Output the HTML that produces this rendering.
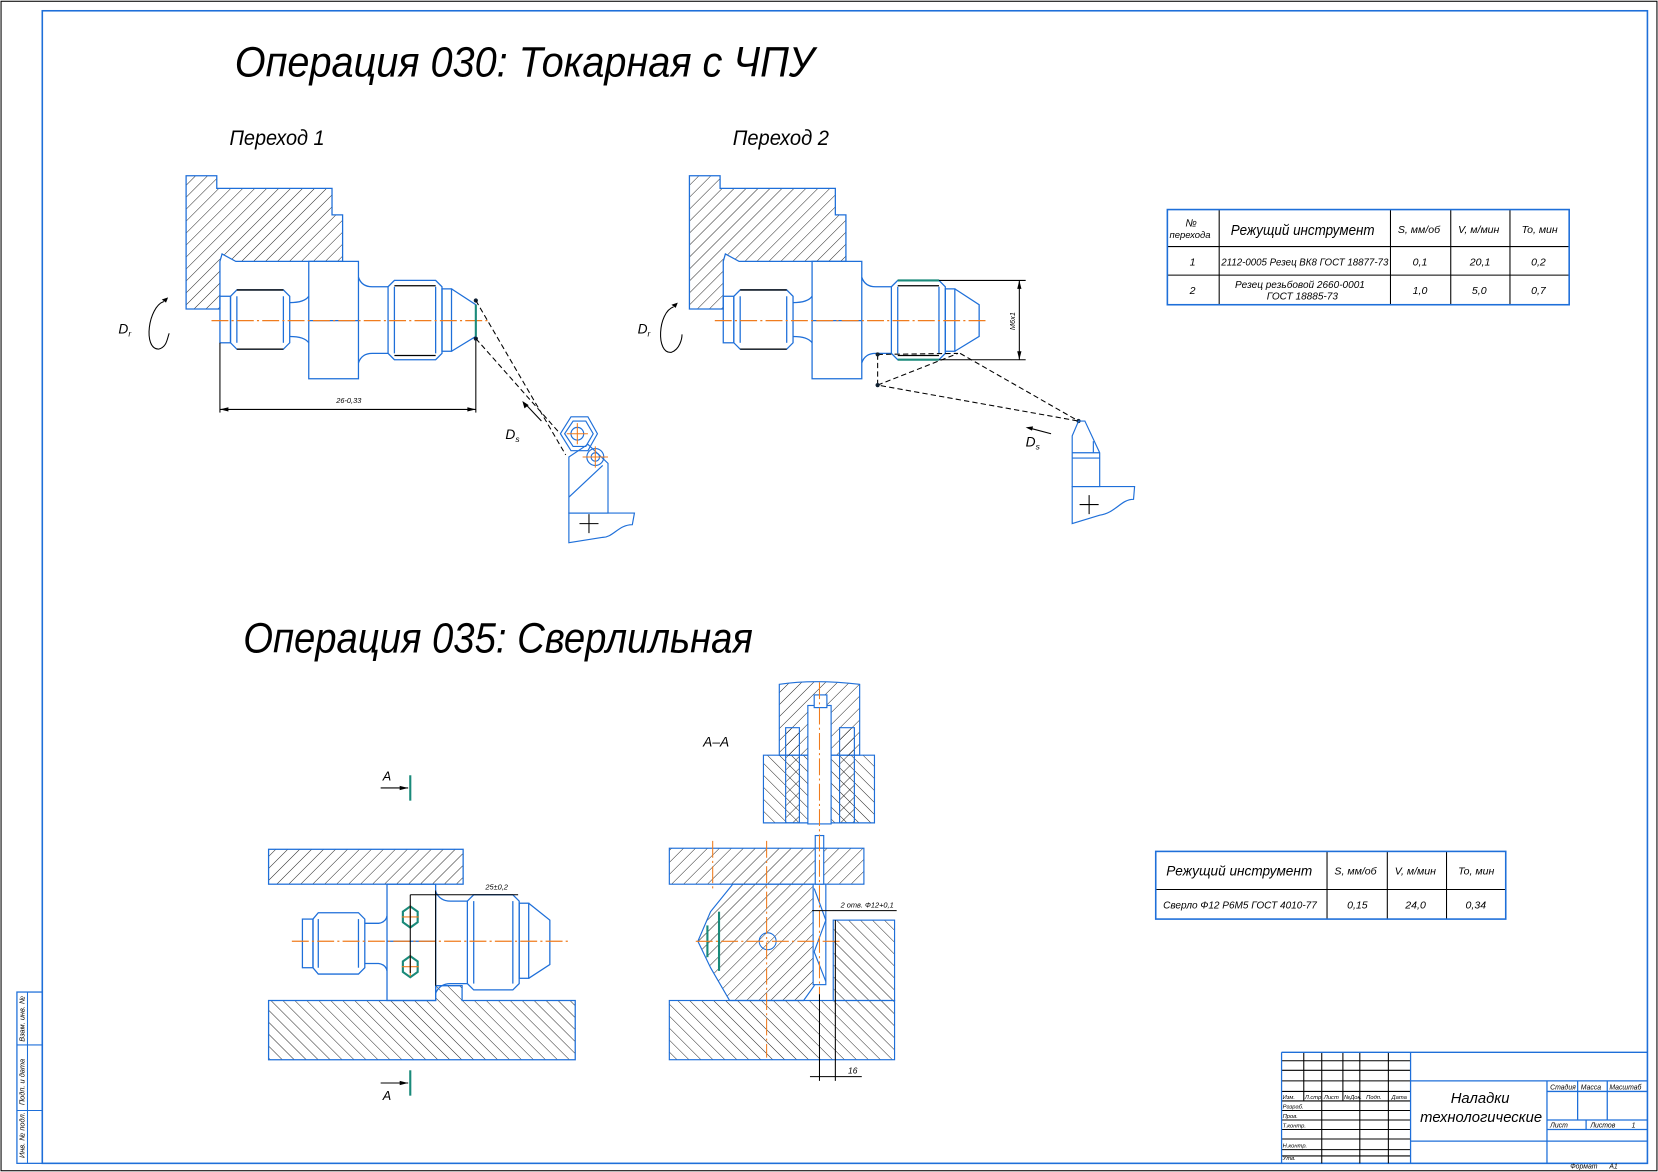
<!DOCTYPE html>
<html><head><meta charset="utf-8"><style>
html,body{margin:0;padding:0;background:#fff}
svg{display:block}
text{font-family:"Liberation Sans",sans-serif;font-style:italic}
</style></head><body>
<svg width="1658" height="1172" viewBox="0 0 1568 1108" xmlns="http://www.w3.org/2000/svg">
<defs>
<pattern id="h1" patternUnits="userSpaceOnUse" width="8" height="8" patternTransform="rotate(45)"><line x1="0" y1="0" x2="0" y2="8" stroke="#000" stroke-width="0.8"/></pattern>
<pattern id="h2" patternUnits="userSpaceOnUse" width="8" height="8" patternTransform="rotate(-45)"><line x1="0" y1="0" x2="0" y2="8" stroke="#000" stroke-width="0.8"/></pattern>
<g id="part" fill="none" stroke="#1e6fd9" stroke-width="1.2">
<rect x="208" y="280" width="10" height="44"/>
<path d="M218,280 L224,274 L268,274 L274,280 L274,324 L268,330 L224,330 L218,324 Z"/>
<line x1="224" y1="280" x2="224" y2="324"/><line x1="268" y1="280" x2="268" y2="324"/>
<line x1="224" y1="274" x2="268" y2="274" stroke="#000"/><line x1="224" y1="330" x2="268" y2="330" stroke="#000"/>
<path d="M274,286 Q288,286 292,280 M274,318 Q288,318 292,324"/>
<rect x="292" y="247" width="47" height="111"/>
<path d="M339,262 Q342,271 352,271 L367,271 M339,343 Q342,334 352,334 L367,334"/>
<path d="M367,271 L373,265 L412,265 L418,271 L418,334 L412,340 L373,340 L367,334 Z"/>
<line x1="373" y1="271" x2="373" y2="334"/><line x1="412" y1="271" x2="412" y2="334"/>
<line x1="373" y1="270" x2="412" y2="270" stroke="#000"/><line x1="373" y1="336" x2="412" y2="336" stroke="#000"/>
<rect x="418" y="273" width="9" height="59"/>
<path d="M427,273 L450,288 L450,318 L427,332"/>
<line x1="292" y1="303" x2="339" y2="303"/>
</g>
<g id="chuck">
<polygon points="176,166 205,166 205,178 314,178 314,203 324,203 324,247 223,247 210,240 208,247 208,292 176,292" fill="url(#h1)" stroke="#1e6fd9" stroke-width="1.2"/>
</g>
</defs>

<rect x="1" y="1" width="1566" height="1106" fill="none" stroke="#000" stroke-width="1"/>
<rect x="40" y="10" width="1518" height="1090" fill="none" stroke="#1e6fd9" stroke-width="1.5"/>
<rect x="16" y="938" width="24" height="162" fill="none" stroke="#1e6fd9" stroke-width="1.2"/>
<line x1="26" y1="938" x2="26" y2="1100" stroke="#1e6fd9"/>
<line x1="16" y1="988" x2="40" y2="988" stroke="#1e6fd9"/><line x1="16" y1="1050" x2="40" y2="1050" stroke="#1e6fd9"/>
<text font-size="7" transform="translate(23,985) rotate(-90)">Взам. инв. №</text>
<text font-size="7" transform="translate(23,1045) rotate(-90)">Подп. и дата</text>
<text font-size="7" transform="translate(23,1095) rotate(-90)">Инв. № подл.</text>

<text x="222" y="72" font-size="40" textLength="548" lengthAdjust="spacingAndGlyphs">Операция 030: Токарная с ЧПУ</text>
<text x="217" y="137" font-size="20" textLength="90" lengthAdjust="spacingAndGlyphs">Переход 1</text>
<text x="693" y="137" font-size="20" textLength="91" lengthAdjust="spacingAndGlyphs">Переход 2</text>
<text x="230" y="617" font-size="40" textLength="482" lengthAdjust="spacingAndGlyphs">Операция 035: Сверлильная</text>

<use href="#chuck"/>
<use href="#part"/>
<line x1="200" y1="303" x2="462" y2="303" stroke="#f07c1e" stroke-width="1.2" stroke-dasharray="16,3,2,3"/>
<line x1="208" y1="324" x2="208" y2="390" stroke="#000"/><line x1="450" y1="320" x2="450" y2="390" stroke="#000"/>
<line x1="208" y1="387" x2="450" y2="387" stroke="#000"/>
<path d="M208,387 l8,-2 v4 z M450,387 l-8,-2 v4 z" fill="#000"/>
<text x="318" y="381" font-size="7">26-0,33</text>
<line x1="450" y1="288" x2="450" y2="318" stroke="#1a8a7a" stroke-width="2"/>
<circle cx="450" cy="284" r="2" fill="#123"/><circle cx="450" cy="320" r="2" fill="#123"/>
<path d="M450,284 L535,430 M450,320 L528,408" stroke="#000" stroke-dasharray="5,3" fill="none"/>
<path d="M512,398 L497,382" stroke="#000"/><path d="M494,379 l2,7 l4,-3 z" fill="#000"/>
<text x="478" y="415" font-size="13">D<tspan font-size="8" dy="3">s</tspan></text>
<text x="112" y="315" font-size="13">D<tspan font-size="8" dy="3">r</tspan></text>
<path d="M155,285 C140,290 135,330 150,330 C158,328 158,320 160,315" fill="none" stroke="#000"/>
<path d="M153,283 l6,-2 l-2,5 z" fill="#000"/>
<g fill="none" stroke="#1e6fd9" stroke-width="1.1">
<polygon points="530,410 540,394 556,394 565,410 556,426 540,426"/>
<polygon points="534,410 542,398 554,398 561,410 554,422 542,422"/>
<circle cx="546" cy="410" r="6"/>
<polygon points="538,432 556,420 575,438 575,485 538,485"/>
<circle cx="563" cy="432" r="8"/><circle cx="563" cy="432" r="4"/>
<line x1="538" y1="470" x2="570" y2="440"/>
<path d="M538,485 L600,485 L598,496 C585,496 580,508 570,508 L538,513 Z"/>
</g>
<path d="M546,400 v20 M536,410 h20 M563,422 v20 M551,432 h24" stroke="#f07c1e"/>
<path d="M557,486 v18 M548,495 h18" stroke="#000"/>

<use href="#chuck" transform="translate(476,0)"/>
<use href="#part" transform="translate(476,0)"/>
<line x1="676" y1="303" x2="935" y2="303" stroke="#f07c1e" stroke-width="1.2" stroke-dasharray="16,3,2,3"/>
<line x1="849" y1="265" x2="888" y2="265" stroke="#1a8a7a" stroke-width="2"/><line x1="849" y1="340" x2="888" y2="340" stroke="#1a8a7a" stroke-width="2"/>
<line x1="888" y1="265" x2="970" y2="265" stroke="#000"/><line x1="888" y1="340" x2="970" y2="340" stroke="#000"/>
<line x1="964" y1="265" x2="964" y2="340" stroke="#000"/>
<path d="M964,265 l-2,8 h4 z M964,340 l-2,-8 h4 z" fill="#000"/>
<text font-size="7" transform="translate(960,312) rotate(-90)">M6x1</text>
<path d="M830,335 L830,364 L1020,398 M830,364 L906,334 M830,335 L906,334 M908,334 L1020,398" stroke="#000" stroke-dasharray="5,3" fill="none"/>
<circle cx="830" cy="335" r="2" fill="#123"/><circle cx="830" cy="364" r="2" fill="#123"/><circle cx="1020" cy="398" r="2" fill="#123"/>
<path d="M994,410 L975,405" stroke="#000"/><path d="M970,404 l7,-1 l-1,4 z" fill="#000"/>
<text x="970" y="422" font-size="13">D<tspan font-size="8" dy="3">s</tspan></text>
<text x="603" y="315" font-size="13">D<tspan font-size="8" dy="3">r</tspan></text>
<path d="M637,290 C622,295 620,335 635,333 C643,330 645,320 645,316" fill="none" stroke="#000"/>
<path d="M635,288 l6,-2 l-2,5 z" fill="#000"/>
<g fill="none" stroke="#1e6fd9" stroke-width="1.1">
<path d="M1020,398 L1014,412 L1014,460 L1040,460 L1040,428 L1026,398 Z"/>
<line x1="1014" y1="428" x2="1040" y2="428"/><line x1="1014" y1="433" x2="1040" y2="433"/>
<line x1="1034" y1="417" x2="1034" y2="428"/>
<path d="M1014,460 L1073,460 L1072,472 C1060,472 1055,485 1040,487 L1014,495 Z"/>
</g>
<path d="M1030,468 v18 M1021,477 h18" stroke="#000"/>

<g stroke="#000" stroke-width="1" fill="none">
<line x1="1104" y1="233" x2="1484" y2="233"/><line x1="1104" y1="260" x2="1484" y2="260"/>
<line x1="1153" y1="198" x2="1153" y2="288"/><line x1="1315" y1="198" x2="1315" y2="288"/>
<line x1="1372" y1="198" x2="1372" y2="288"/><line x1="1428" y1="198" x2="1428" y2="288"/>
</g>
<rect x="1104" y="198" width="380" height="90" fill="none" stroke="#1e6fd9" stroke-width="1.5"/>
<g font-size="10">
<text x="1121" y="214">№</text><text x="1106" y="225" font-size="9">перехода</text>
<text x="1164" y="222" font-size="14" textLength="136" lengthAdjust="spacingAndGlyphs">Режущий инструмент</text>
<text x="1322" y="220">S, мм/об</text><text x="1379" y="220">V, м/мин</text><text x="1439" y="220">To, мин</text>
<text x="1125" y="251">1</text><text x="1155" y="251" font-size="9.5" textLength="158" lengthAdjust="spacingAndGlyphs">2112-0005 Резец ВК8 ГОСТ 18877-73</text>
<text x="1336" y="251">0,1</text><text x="1390" y="251">20,1</text><text x="1448" y="251">0,2</text>
<text x="1125" y="278">2</text><text x="1168" y="272" font-size="9.5">Резец резьбовой 2660-0001</text><text x="1198" y="283" font-size="9.5">ГОСТ 18885-73</text>
<text x="1336" y="278">1,0</text><text x="1392" y="278">5,0</text><text x="1448" y="278">0,7</text>
</g>

<g stroke="#000" stroke-width="1">
<line x1="1093" y1="841" x2="1424" y2="841"/>
<line x1="1255" y1="805" x2="1255" y2="869"/><line x1="1312" y1="805" x2="1312" y2="869"/><line x1="1368" y1="805" x2="1368" y2="869"/>
</g>
<rect x="1093" y="805" width="331" height="64" fill="none" stroke="#1e6fd9" stroke-width="1.5"/>
<g font-size="10">
<text x="1103" y="828" font-size="13" textLength="138" lengthAdjust="spacingAndGlyphs">Режущий инструмент</text>
<text x="1262" y="827">S, мм/об</text><text x="1319" y="827">V, м/мин</text><text x="1379" y="827">To, мин</text>
<text x="1100" y="859" font-size="9.5">Сверло Ф12 Р6М5 ГОСТ 4010-77</text>
<text x="1274" y="859">0,15</text><text x="1329" y="859">24,0</text><text x="1386" y="859">0,34</text>
</g>

<rect x="254" y="803" width="184" height="33" fill="url(#h1)" stroke="#1e6fd9" stroke-width="1.2"/>
<polygon points="254,946 412,946 412,932 437,932 437,946 544,946 544,1002 254,1002" fill="url(#h2)" stroke="#1e6fd9" stroke-width="1.2"/>
<g fill="none" stroke="#1e6fd9" stroke-width="1.2" transform="translate(-12,0)">
<rect x="298" y="869" width="10" height="46"/>
<path d="M308,869 L313,863 L351,863 L357,869 L357,915 L351,921 L313,921 L308,915 Z"/>
<line x1="313" y1="869" x2="313" y2="915"/><line x1="351" y1="869" x2="351" y2="915"/>
<path d="M357,873 L370,873 Q377,872 378,866 M357,911 L370,911 Q377,912 378,918"/>
<rect x="378" y="836" width="46" height="110"/>
<path d="M424,843 Q428,852 438,852 L454,852 M424,939 Q428,930 438,930 L454,930"/>
<path d="M454,852 L460,846 L497,846 L503,852 L503,930 L497,936 L460,936 L454,930 Z"/>
<line x1="460" y1="852" x2="460" y2="930"/><line x1="497" y1="852" x2="497" y2="930"/>
<rect x="503" y="854" width="9" height="71"/>
<path d="M512,854 L532,870 L532,912 L512,925"/>
<line x1="378" y1="890" x2="424" y2="890"/>
</g>
<line x1="276" y1="890" x2="540" y2="890" stroke="#f07c1e" stroke-width="1.2" stroke-dasharray="16,3,2,3"/>
<g stroke="#1a8a7a" stroke-width="2" fill="none">
<path d="M388,857 L395,862 L395,872 L388,877 L381,872 L381,862 Z"/>
<path d="M388,904 L395,909 L395,919 L388,924 L381,919 L381,909 Z"/>
</g>
<path d="M380,867 h16 M388,856 v20 M380,914 h16 M388,903 v20" stroke="#f07c1e"/>
<line x1="388" y1="846" x2="388" y2="920" stroke="#000"/><line x1="412" y1="842" x2="412" y2="932" stroke="#000"/>
<line x1="388" y1="846" x2="490" y2="846" stroke="#000"/>
<text x="459" y="841" font-size="7">25±0,2</text>
<line x1="388" y1="733" x2="388" y2="757" stroke="#1a8a7a" stroke-width="2"/><line x1="360" y1="745" x2="386" y2="745" stroke="#000"/><path d="M386,745 l-8,-2 v4 z" fill="#000"/>
<text x="362" y="738" font-size="12" font-style="normal">А</text>
<line x1="388" y1="1012" x2="388" y2="1036" stroke="#1a8a7a" stroke-width="2"/><line x1="360" y1="1024" x2="386" y2="1024" stroke="#000"/><path d="M386,1024 l-8,-2 v4 z" fill="#000"/>
<text x="362" y="1040" font-size="12" font-style="normal">А</text>

<text x="665" y="706" font-size="13" font-style="normal">А–А</text>
<g stroke="#1e6fd9" stroke-width="1.1">
<path d="M737,647 Q770,642 813,647 L813,714 L737,714 Z" fill="url(#h1)"/>
<path d="M722,714 L827,714 L827,778 L722,778 Z" fill="url(#h2)"/>
<rect x="764" y="667" width="22" height="112" fill="#fff"/>
<rect x="770" y="657" width="12" height="12" fill="#fff"/>
<path d="M743,688 L756,688 L756,778 L743,778 Z M794,688 L808,688 L808,778 L794,778 Z" fill="url(#h1)"/>
<rect x="633" y="802" width="184" height="34" fill="url(#h1)"/>
<polygon points="693,836 770,836 777,870 770,932 760,946 690,946 672,915 660,890 672,862" fill="url(#h1)"/>
<rect x="788" y="870" width="58" height="76" fill="url(#h2)"/>
<rect x="633" y="946" width="213" height="56" fill="url(#h2)"/>
<rect x="771" y="790" width="8" height="12" fill="#fff"/>
<rect x="769" y="836" width="12" height="95" fill="#fff"/>
<path d="M770,840 L781,870 L770,900 L781,928" fill="none"/>
<rect x="771" y="802" width="8" height="34" fill="#fff"/>
</g>
<line x1="680" y1="862" x2="680" y2="918" stroke="#1a8a7a" stroke-width="2"/>
<line x1="669" y1="875" x2="669" y2="905" stroke="#1a8a7a" stroke-width="2"/>
<circle cx="726" cy="890" r="8" fill="none" stroke="#1e6fd9"/>
<line x1="775" y1="645" x2="775" y2="940" stroke="#f07c1e" stroke-dasharray="16,3,2,3"/>
<line x1="725" y1="795" x2="725" y2="1000" stroke="#f07c1e" stroke-dasharray="16,3,2,3"/>
<line x1="674" y1="795" x2="674" y2="840" stroke="#f07c1e" stroke-dasharray="16,3,2,3"/>
<line x1="658" y1="890" x2="795" y2="890" stroke="#f07c1e" stroke-dasharray="16,3,2,3"/>
<line x1="775" y1="940" x2="775" y2="1022" stroke="#000"/><line x1="790" y1="870" x2="790" y2="1022" stroke="#000"/>
<line x1="766" y1="1018" x2="815" y2="1018" stroke="#000"/>
<text x="802" y="1015" font-size="8">16</text>
<line x1="768" y1="861" x2="848" y2="861" stroke="#000"/>
<text x="795" y="858" font-size="7">2 отв. Ф12+0,1</text>

<g stroke="#000" stroke-width="1" fill="none">
<line x1="1212" y1="1003" x2="1334" y2="1003"/><line x1="1212" y1="1012" x2="1334" y2="1012"/><line x1="1212" y1="1022" x2="1334" y2="1022"/>
<line x1="1212" y1="1032" x2="1334" y2="1032"/><line x1="1212" y1="1041" x2="1334" y2="1041"/><line x1="1212" y1="1050" x2="1334" y2="1050"/>
<line x1="1212" y1="1059" x2="1334" y2="1059"/><line x1="1212" y1="1068" x2="1334" y2="1068"/><line x1="1212" y1="1077" x2="1334" y2="1077"/>
<line x1="1212" y1="1087" x2="1334" y2="1087"/><line x1="1212" y1="1093" x2="1334" y2="1093"/>
<line x1="1233" y1="995" x2="1233" y2="1041"/><line x1="1250" y1="995" x2="1250" y2="1041"/><line x1="1270" y1="995" x2="1270" y2="1041"/>
<line x1="1286" y1="995" x2="1286" y2="1100"/><line x1="1313" y1="995" x2="1313" y2="1100"/><line x1="1250" y1="1041" x2="1250" y2="1100"/>
</g>
<g stroke="#1e6fd9" stroke-width="1.2" fill="none">
<line x1="1212" y1="995" x2="1558" y2="995"/><line x1="1212" y1="995" x2="1212" y2="1100"/>
<line x1="1334" y1="995" x2="1334" y2="1100"/>
<line x1="1334" y1="1022" x2="1558" y2="1022"/><line x1="1334" y1="1079" x2="1558" y2="1079"/>
<line x1="1463" y1="1022" x2="1463" y2="1100"/>
<line x1="1463" y1="1032" x2="1558" y2="1032"/><line x1="1463" y1="1059" x2="1558" y2="1059"/><line x1="1463" y1="1068" x2="1558" y2="1068"/>
<line x1="1492" y1="1022" x2="1492" y2="1059"/><line x1="1520" y1="1022" x2="1520" y2="1059"/><line x1="1500" y1="1059" x2="1500" y2="1068"/>
</g>
<g font-size="5.5">
<text x="1213" y="1039">Изм.</text><text x="1234" y="1039">Л.стр.</text><text x="1252" y="1039">Лист</text><text x="1271" y="1039">№Док.</text><text x="1292" y="1039">Подп.</text><text x="1316" y="1039">Дата</text>
<text x="1213" y="1048">Разраб.</text><text x="1213" y="1057">Пров.</text><text x="1213" y="1066">Т.контр.</text><text x="1213" y="1085">Н.контр.</text><text x="1213" y="1097">Утв.</text>
</g>
<g font-size="6.5">
<text x="1466" y="1030">Стадия</text><text x="1495" y="1030">Масса</text><text x="1522" y="1030">Масштаб</text>
<text x="1466" y="1066">Лист</text><text x="1504" y="1066">Листов</text><text x="1543" y="1066">1</text>
<text x="1485" y="1105">Формат</text><text x="1522" y="1105">А1</text>
</g>
<text x="1372" y="1043" font-size="14">Наладки</text>
<text x="1343" y="1061" font-size="14">технологические</text>
</svg>
</body></html>
